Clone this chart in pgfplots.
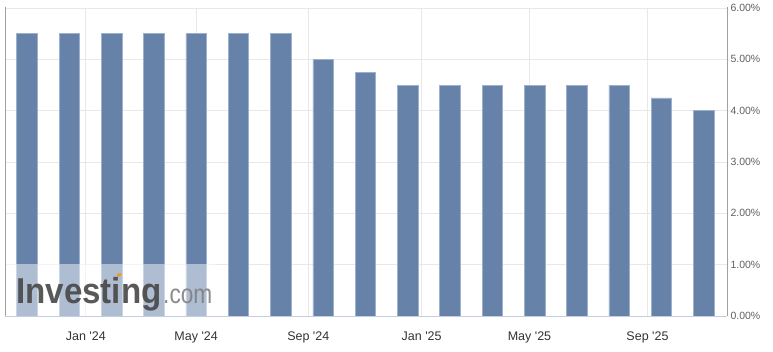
\documentclass[border=0pt]{standalone}
\usepackage{graphicx}
\usepackage{pgfplots}
\pgfplotsset{compat=1.18}
\usepackage{fontspec}
\setmainfont{Liberation Sans}
\newfontfamily\lab{Liberation Sans}
\definecolor{barblue}{HTML}{6682A9}
\definecolor{baredge}{HTML}{9DB0CC}
\definecolor{gridgray}{HTML}{E8E8E8}
\definecolor{axgray}{HTML}{A0A0A0}
\definecolor{botline}{HTML}{C4CEDE}
\definecolor{ylab}{HTML}{606060}
\definecolor{xlab}{HTML}{333333}
\newcommand\q{\char"27\relax}
\begin{document}
\begin{tikzpicture}[x=1pt,y=1pt]
\path[use as bounding box] (0,0) rectangle (773,351);
\begin{axis}[
  at={(5pt,35pt)}, anchor=south west, scale only axis,
  width=722pt, height=308pt,
  xmin=-0.52, xmax=16.55, ymin=0, ymax=6,
  axis line style={draw=none},
  ytick={0,1,2,3,4,5,6},
  yticklabels={0.00\%,1.00\%,2.00\%,3.00\%,4.00\%,5.00\%,6.00\%},
  yticklabel pos=right,
  yticklabel style={font=\fontsize{10.5}{12}\lab, text=ylab, anchor=west},
  xtick={1.39,4,6.65,9.33,11.88,14.67},
  xticklabels={Jan \q24,May \q24,Sep \q24,Jan \q25,May \q25,Sep \q25},
  xticklabel style={font=\fontsize{12.5}{14}\lab, text=xlab, anchor=base, yshift=-24pt},
  major tick length=0,
  grid=major, major grid style={color=gridgray, line width=0.7pt},
  clip=false,
]
\addplot[ybar, bar width=20.5pt, fill=barblue, draw=baredge, line width=0.5pt]
 coordinates {(0,5.5) (1,5.5) (2,5.5) (3,5.5) (4,5.5) (5,5.5) (6,5.5)
 (7,5.0) (8,4.75) (9,4.5) (10,4.5) (11,4.5) (12,4.5) (13,4.5) (14,4.5)
 (15,4.25) (16,4.0)};
\end{axis}
% frame lines
\draw[axgray, line width=0.8pt] (5,35) -- (5,344);
\draw[axgray, line width=0.8pt] (727,35) -- (727,344);
\draw[botline, line width=1pt] (5,35) -- (727,35);
% watermark
\fill[white, opacity=0.48] (6,35.5) rectangle (215,87);
\node[anchor=base west, inner sep=0, text=black!72, opacity=0.9,
  font=\fontsize{36}{36}\bfseries\lab] at (16,48) {\scalebox{0.92}[1]{Investing}};
\node[anchor=base west, inner sep=0, text=black!50, opacity=0.9,
  font=\fontsize{27}{27}\lab] at (163,48) {\scalebox{0.84}[1]{.com}};
\fill[orange!85!yellow, rotate around={30:(119,76)}] (119,76) ellipse (2.6pt and 1.4pt);
\end{tikzpicture}
\end{document}
